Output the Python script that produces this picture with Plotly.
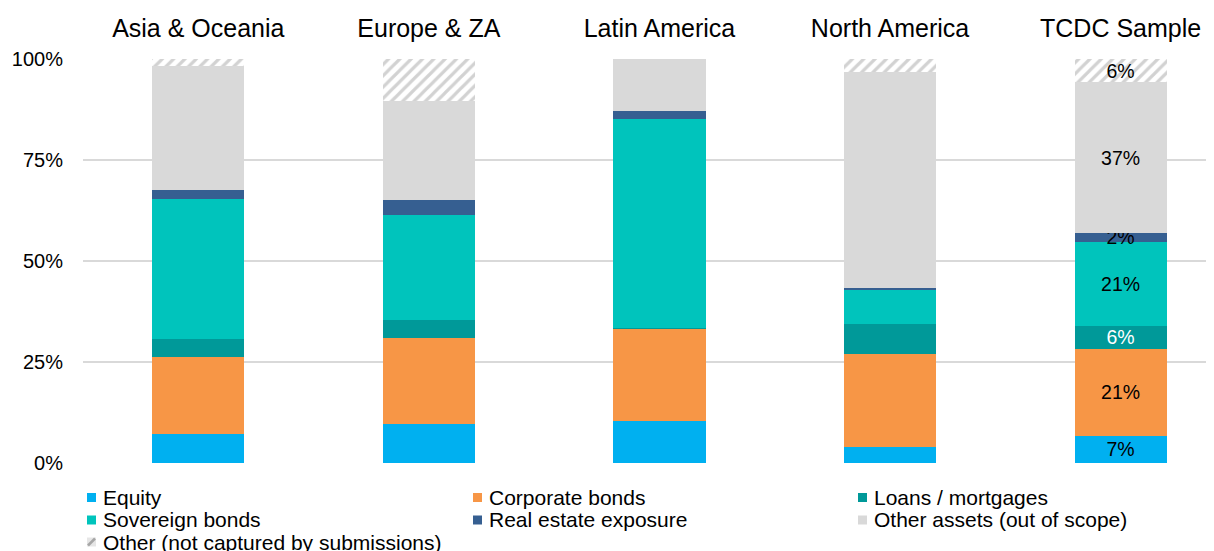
import plotly.graph_objects as go

categories = ["Asia & Oceania", "Europe & ZA", "Latin America", "North America", "TCDC Sample"]

equity = [7.3, 9.7, 10.5, 4.0, 6.8]
corporate_bonds = [19.0, 21.2, 22.7, 23.0, 21.4]
loans_mortgages = [4.4, 4.4, 0.3, 7.4, 5.8]
sovereign_bonds = [34.6, 26.0, 51.7, 8.5, 20.8]
real_estate = [2.3, 3.8, 2.0, 0.4, 2.2]
other_assets = [30.7, 24.5, 12.8, 53.5, 37.2]
other_not_captured = [1.7, 10.4, 0.0, 3.2, 5.8]

series_names = [
    "Equity", "Corporate bonds", "Loans / mortgages", "Sovereign bonds",
    "Real estate exposure", "Other assets (out of scope)", "Other (not captured by submissions)",
]
series_values = [equity, corporate_bonds, loans_mortgages, sovereign_bonds,
                 real_estate, other_assets, other_not_captured]
colors = ["#00B0F0", "#F79646", "#009999", "#00C4BC", "#365F91", "#D9D9D9", "#FFFFFF"]
label_colors = ["black", "black", "white", "black", "black", "black", "black"]
y_ticks = [0, 25, 50, 75, 100]
y_tick_text = ["0%", "25%", "50%", "75%", "100%"]

FONT = "Liberation Sans, Arial, sans-serif"
OFF = 8  # default page body margin
SW, SH = 1214, 551
W, H = SW - OFF, SH - OFF
ML, MR, MT, MB = 83 - OFF, 0, 59 - OFF, 88
PW, PH = W - ML - MR, H - MT - MB

fig = go.Figure()
for i, (name, vals) in enumerate(zip(series_names, series_values)):
    texts = [f"{v:.0f}%" if c == "TCDC Sample" else "" for c, v in zip(categories, vals)]
    if i == 6:
        marker = dict(color="white", line=dict(width=0),
                      pattern=dict(shape="/", fgcolor="#A6A6A6", bgcolor="white",
                                   size=8, solidity=0.4))
    else:
        marker = dict(color=colors[i], line=dict(width=0))
    fig.add_trace(go.Bar(
        x=categories, y=vals, name=name, text=texts, marker=marker,
        textposition="inside", insidetextanchor="middle", constraintext="none",
        textfont=dict(family=FONT, size=19.5, color=label_colors[i]),
        showlegend=False))

# manual legend (3 columns); positions given in screen pixels
def px_x(px):
    return (px - OFF - ML) / PW

def px_y(py):
    return (SH - MB - py) / PH

legend_cols = [87, 473, 858]
legend_rows = [497.5, 520, 542]
shapes = []
annotations = []
for i, name in enumerate(series_names):
    col, row = i % 3, i // 3
    sx, sy = legend_cols[col], legend_rows[row]
    if i == 6:
        shapes.append(dict(type="rect", xref="paper", yref="paper",
                           x0=px_x(sx), x1=px_x(sx + 9), y0=px_y(sy + 4.5), y1=px_y(sy - 4.5),
                           fillcolor="#E6E6E6", line=dict(width=0)))
        shapes.append(dict(type="line", xref="paper", yref="paper",
                           x0=px_x(sx + 1), x1=px_x(sx + 8), y0=px_y(sy + 3.5), y1=px_y(sy - 3.5),
                           line=dict(color="#A6A6A6", width=2.5)))
    else:
        shapes.append(dict(type="rect", xref="paper", yref="paper",
                           x0=px_x(sx), x1=px_x(sx + 9), y0=px_y(sy + 4.5), y1=px_y(sy - 4.5),
                           fillcolor=colors[i], line=dict(width=0)))
    annotations.append(dict(text=name, xref="paper", yref="paper", x=px_x(sx + 14), y=px_y(sy),
                            xanchor="left", yanchor="middle", showarrow=False,
                            font=dict(family=FONT, size=21, color="black")))

fig.update_layout(
    barmode="stack", bargap=0.6,
    width=W, height=H,
    margin=dict(l=ML, r=MR, t=MT, b=MB, autoexpand=False),
    paper_bgcolor="white", plot_bgcolor="white",
    font=dict(family=FONT, color="black"),
    shapes=shapes, annotations=annotations,
    xaxis=dict(side="top", type="category", range=[-0.5, 4.405],
               tickfont=dict(family=FONT, size=25, color="black"),
               showgrid=False, showline=False, ticks="", ticklabelstandoff=16, automargin=False),
    yaxis=dict(range=[0, 100], tickvals=y_ticks, ticktext=y_tick_text,
               tickfont=dict(family=FONT, size=20, color="black"),
               showgrid=True, gridcolor="#D9D9D9", gridwidth=1.5,
               zeroline=False, showline=False, ticks="", ticklabelstandoff=19, automargin=False),
)

fig.write_html("out.html")
